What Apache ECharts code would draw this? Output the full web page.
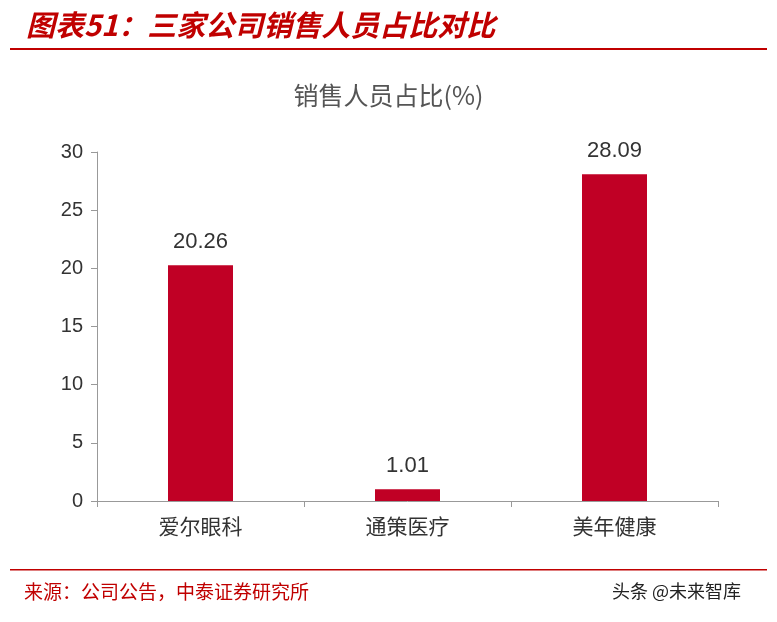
<!DOCTYPE html><html><head><meta charset="utf-8"><script src="https://cdn.jsdelivr.net/npm/echarts@6/dist/echarts.min.js"></script>
<style>body{margin:0}#c{width:777px;height:622px}</style></head><body><div id="c"></div><script>
const categories=['爱尔眼科','通策医疗','美年健康'];
const values=[20.26,1.01,28.09];
const c=echarts.init(document.getElementById('c'));
const F='"Noto Sans CJK SC"';
c.setOption({
graphic:[
{type:'text',left:26,top:10,style:{text:'图表51：三家公司销售人员占比对比',font:'italic bold 29px '+F,fill:'#C00000'}},
{type:'rect',shape:{x:10,y:48,width:757,height:2},style:{fill:'#C00000'}},
{type:'rect',shape:{x:10,y:569,width:757,height:1.5},style:{fill:'#C00000'}},
{type:'text',left:24,top:582,style:{text:'来源：公司公告，中泰证券研究所',font:'19px '+F,fill:'#C00000'}},
{type:'text',left:612,top:582,style:{text:'头条 @未来智库',font:'18px '+F,fill:'#222'}}
],
title:{text:'销售人员占比(%)',left:'center',top:78,textStyle:{fontFamily:F,fontSize:25,fontWeight:'normal',color:'#555'}},
grid:{left:97,right:59,top:152,bottom:121},
xAxis:{type:'category',data:categories,axisLine:{lineStyle:{color:'#999'}},axisTick:{show:true,length:6,lineStyle:{color:'#999'}},axisLabel:{fontFamily:F,fontSize:21,color:'#333',margin:15}},
yAxis:{type:'value',min:0,max:30,interval:5,splitLine:{show:false},axisLine:{show:true,lineStyle:{color:'#999'}},axisTick:{show:true,length:6,lineStyle:{color:'#999'}},axisLabel:{fontFamily:'Arial',fontSize:20,color:'#333',margin:14}},
series:[{type:'bar',data:values,barWidth:65,itemStyle:{color:'#C00025'},label:{show:true,position:'top',fontFamily:'Arial',fontSize:22,color:'#333',distance:12}}]
});
</script></body></html>
